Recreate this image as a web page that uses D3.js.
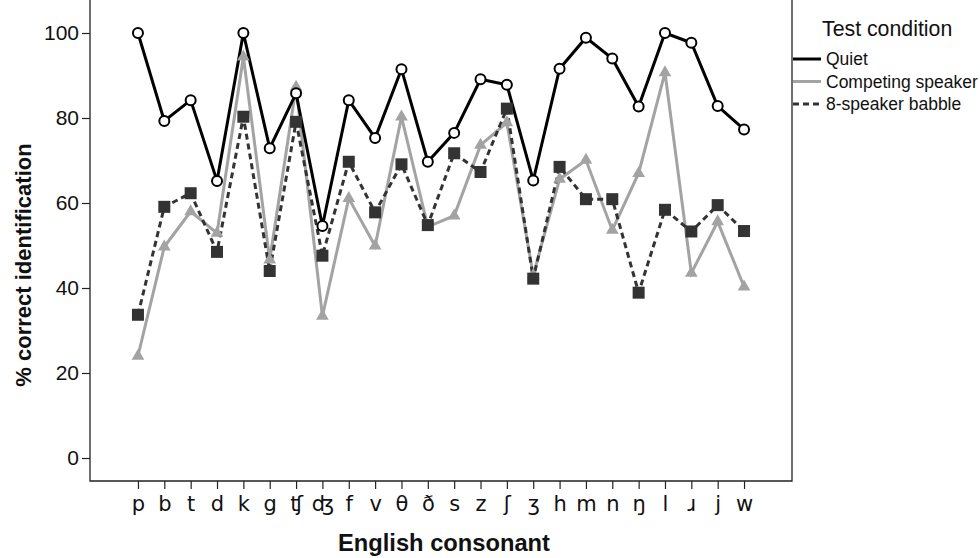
<!DOCTYPE html>
<html>
<head>
<meta charset="utf-8">
<script src="https://cdnjs.cloudflare.com/ajax/libs/d3/7.8.5/d3.min.js"></script>
<style>
  html, body { margin: 0; padding: 0; background: #fff; }
  svg { display: block; font-family: "Liberation Sans", Arial, sans-serif; }
</style>
</head>
<body>
<div id="chart"></div>
<script>
// 辅音 (x 轴)
var consonants = ['p', 'b', 't', 'd', 'k', 'g', '\u02A7', '\u02A4', 'f', 'v', '\u03B8', '\u00F0', 's', 'z',
  '\u0283', '\u0292', 'h', 'm', 'n', '\u014B', 'l', '\u0279', 'j', 'w']

// 三种测试条件
var quiet = [100, 79.3, 84.2, 65.2, 100, 72.9, 85.8, 54.6, 84.2, 75.3, 91.5, 69.7, 76.5, 89.1,
  87.8, 65.3, 91.6, 98.9, 94.0, 82.7, 100, 97.7, 82.8, 77.3]
var competing = [24.0, 49.7, 58.0, 52.9, 94.4, 46.6, 87.3, 33.4, 61.1, 49.9, 80.3, 54.4, 57.0, 73.6,
  78.9, 43.0, 65.6, 70.1, 53.6, 67.0, 90.7, 43.5, 55.6, 40.3]
var babble = [33.7, 59.1, 62.3, 48.5, 80.3, 44.0, 79.1, 47.6, 69.7, 57.8, 69.1, 54.8, 71.7, 67.3,
  82.2, 42.2, 68.5, 60.9, 60.9, 38.9, 58.4, 53.3, 59.5, 53.4]

var yTicks = [0, 20, 40, 60, 80, 100]
var seriesNames = ['Quiet', 'Competing speaker', '8-speaker babble']

var width = 980
var height = 558

// 绘图区域
var plot = { left: 90, right: 792, top: 0, bottom: 481 }

var svg = d3.select('#chart').append('svg')
  .attr('width', width)
  .attr('height', height)

var x = d3.scalePoint()
  .domain(consonants)
  .range([plot.left, plot.right])
  .padding(1.82)

var y = d3.scaleLinear()
  .domain([0, 100])
  .range([458, 33])

/**
 *  边框
 */
svg.append('path')
  .attr('d', 'M' + plot.left + ',' + plot.top + 'V' + plot.bottom + 'H' + plot.right + 'V' + plot.top)
  .attr('fill', 'none')
  .attr('stroke', '#222')
  .attr('stroke-width', 1.3)

/**
 *  坐标轴
 */
var yAxis = d3.axisLeft(y).tickValues(yTicks).tickSize(8).tickPadding(3)
var yg = svg.append('g')
  .attr('transform', 'translate(' + plot.left + ',0)')
  .call(yAxis)
yg.select('.domain').remove()
yg.selectAll('line').attr('stroke', '#222').attr('stroke-width', 1.2)
yg.selectAll('text')
  .attr('font-size', 21)
  .attr('fill', '#111')
  .attr('font-family', '"Liberation Sans", Arial, sans-serif')

var xAxis = d3.axisBottom(x).tickSize(8).tickPadding(7)
var xg = svg.append('g')
  .attr('transform', 'translate(0,' + plot.bottom + ')')
  .call(xAxis)
xg.select('.domain').remove()
xg.selectAll('line').attr('stroke', '#222').attr('stroke-width', 1.2)
xg.selectAll('text')
  .attr('font-size', 21)
  .attr('fill', '#111')
  .attr('font-family', '"DejaVu Sans", "Liberation Sans", sans-serif')

// 轴标题
svg.append('text')
  .attr('x', 444)
  .attr('y', 551)
  .attr('text-anchor', 'middle')
  .attr('font-size', 23.7)
  .attr('font-weight', 'bold')
  .attr('fill', '#111')
  .text('English consonant')

svg.append('text')
  .attr('transform', 'translate(31,' + 265 + ') rotate(-90)')
  .attr('text-anchor', 'middle')
  .attr('font-size', 22)
  .attr('font-weight', 'bold')
  .attr('fill', '#111')
  .text('% correct identification')

/**
 *  折线
 */
var line = d3.line()
  .x(function(d, i) { return x(consonants[i]) })
  .y(function(d) { return y(d) })

var styles = [
  { data: quiet, stroke: '#000', dash: null },
  { data: competing, stroke: '#a3a3a3', dash: null },
  { data: babble, stroke: '#333', dash: '6,4' }
]

// 先画灰线和虚线，再画黑线
;[1, 2, 0].forEach(function(k) {
  var s = styles[k]
  svg.append('path')
    .datum(s.data)
    .attr('d', line)
    .attr('fill', 'none')
    .attr('stroke', s.stroke)
    .attr('stroke-width', 3)
    .attr('stroke-dasharray', s.dash)
    .attr('stroke-linejoin', 'miter')
})

// 三角形标记
svg.selectAll('.tri')
  .data(competing)
  .enter()
  .append('path')
  .attr('class', 'tri')
  .attr('d', d3.symbol().type(d3.symbolTriangle).size(70))
  .attr('transform', function(d, i) { return 'translate(' + x(consonants[i]) + ',' + y(d) + ')' })
  .attr('fill', '#a3a3a3')

// 方块标记
svg.selectAll('.sq')
  .data(babble)
  .enter()
  .append('rect')
  .attr('class', 'sq')
  .attr('x', function(d, i) { return x(consonants[i]) - 6 })
  .attr('y', function(d) { return y(d) - 6 })
  .attr('width', 12)
  .attr('height', 12)
  .attr('fill', '#333')

// 圆圈标记
svg.selectAll('.dot')
  .data(quiet)
  .enter()
  .append('circle')
  .attr('class', 'dot')
  .attr('cx', function(d, i) { return x(consonants[i]) })
  .attr('cy', function(d) { return y(d) })
  .attr('r', 5)
  .attr('fill', '#fff')
  .attr('stroke', '#000')
  .attr('stroke-width', 2)

/**
 *  图例
 */
var legend = svg.append('g')
svg.append('text')
  .attr('x', 822)
  .attr('y', 36)
  .attr('font-size', 21.3)
  .attr('fill', '#111')
  .text('Test condition')

var legendItems = legend.selectAll('g')
  .data(seriesNames)
  .enter()
  .append('g')
  .attr('transform', function(d, i) { return 'translate(793,' + (59 + i * 22.5) + ')' })

legendItems.append('line')
  .attr('x1', 0)
  .attr('x2', 28)
  .attr('stroke', function(d, i) { return styles[i].stroke })
  .attr('stroke-width', 3)
  .attr('stroke-dasharray', function(d, i) { return styles[i].dash })

legendItems.append('text')
  .attr('x', 33)
  .attr('y', 6)
  .attr('font-size', 17.5)
  .attr('fill', '#111')
  .text(function(d) { return d })
</script>
</body>
</html>
